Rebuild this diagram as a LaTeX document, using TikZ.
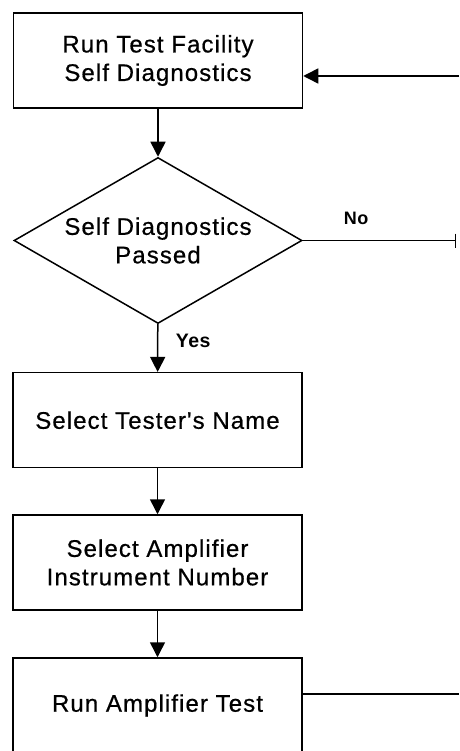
\documentclass[tikz,border=0pt]{standalone}
\usepackage{fontspec}
\setmainfont{Liberation Sans}[LetterSpace=4.5,FakeBold=0.6,Ligatures=TeXOff]
\newfontfamily\labfont{Liberation Sans}[LetterSpace=3]
\usetikzlibrary{shapes.geometric,arrows.meta}
\begin{document}
\begin{tikzpicture}[x=1pt,y=-1pt,
  line width=1.5pt,
  stepbox/.style={draw,rectangle,minimum width=289pt,minimum height=95pt,inner sep=0pt,align=center,
    font=\fontsize{24}{28.5}\selectfont},
  decide/.style={draw,diamond,aspect=1.73,minimum width=288pt,minimum height=166pt,inner sep=0pt,align=center,
    font=\fontsize{24}{28.5}\selectfont},
  flow/.style={-{Triangle[length=15pt,width=15pt]}},
  lab/.style={font=\labfont\bfseries\fontsize{18}{20}\selectfont,inner sep=0pt,anchor=base west}]
\useasboundingbox (0,0) rectangle (459,751);
\clip (0,0) rectangle (459,751);
\node[stepbox] (b1) at (158,60.5) {Run Test Facility\\Self Diagnostics};
\node[decide] (d) at (158,240.5) {Self Diagnostics\\Passed};
\node[stepbox] (b2) at (157.5,420.2) {Select Tester's Name};
\node[stepbox] (b3) at (157.5,562.5) {Select Amplifier\\Instrument Number};
\node[stepbox] (b4) at (157.5,705.5) {Run Amplifier Test};
\node[lab] (no) at (343,225) {No};
\node[lab, font=\labfont\bfseries\fontsize{19.5}{20}\selectfont] (yes) at (175,347) {Yes};
\coordinate (r1) at (459,76);
\coordinate (noend) at (456,240.5);
\coordinate (r4) at (459,694);
\draw[flow] (b1) -- (d);
\draw[flow] (d) -- (b2);
\draw[flow] (b2) -- (b3);
\draw[flow] (b3) -- (b4);
\draw[flow] (r1) -- (r1 -| b1.east);
\draw[-{Bar[width=14pt]}] (d.east) -- (noend);
\draw (r4 -| b4.east) -- (r4);
\end{tikzpicture}
\end{document}
